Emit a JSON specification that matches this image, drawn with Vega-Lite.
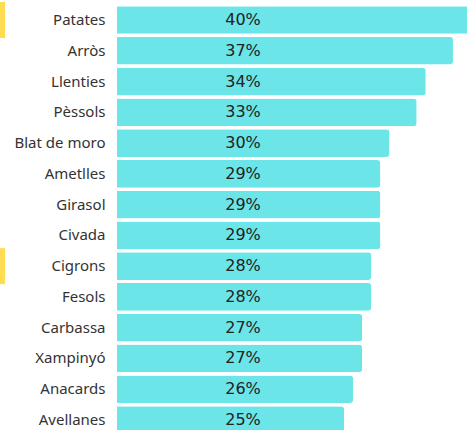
{
  "$schema": "https://vega.github.io/schema/vega-lite/v6.json",
  "width": 400,
  "height": 440,
  "autosize": {"type": "none"},
  "padding": {"left": 117, "top": 0, "right": 0, "bottom": 0},
  "background": "white",
  "config": {"view": {"stroke": null}},
  "data": {
    "values": [
      {"aliment": "Patates", "pct": 0.40, "destacat": true},
      {"aliment": "Arròs", "pct": 0.37, "destacat": false},
      {"aliment": "Llenties", "pct": 0.34, "destacat": false},
      {"aliment": "Pèssols", "pct": 0.33, "destacat": false},
      {"aliment": "Blat de moro", "pct": 0.30, "destacat": false},
      {"aliment": "Ametlles", "pct": 0.29, "destacat": false},
      {"aliment": "Girasol", "pct": 0.29, "destacat": false},
      {"aliment": "Civada", "pct": 0.29, "destacat": false},
      {"aliment": "Cigrons", "pct": 0.28, "destacat": true},
      {"aliment": "Fesols", "pct": 0.28, "destacat": false},
      {"aliment": "Carbassa", "pct": 0.27, "destacat": false},
      {"aliment": "Xampinyó", "pct": 0.27, "destacat": false},
      {"aliment": "Anacards", "pct": 0.26, "destacat": false},
      {"aliment": "Avellanes", "pct": 0.25, "destacat": false}
    ]
  },
  "encoding": {
    "y": {
      "field": "aliment",
      "type": "nominal",
      "sort": null,
      "scale": {"paddingInner": 0.1, "paddingOuter": 0.2},
      "axis": {
        "title": null,
        "domain": false,
        "ticks": false,
        "labelPadding": 12,
        "labelFont": "Noto Sans",
        "labelFontSize": 15,
        "labelColor": "#333333"
      }
    }
  },
  "layer": [
    {
      "mark": {"type": "bar", "color": "#6BE5E8", "cornerRadiusEnd": 3},
      "encoding": {
        "x": {
          "field": "pct",
          "type": "quantitative",
          "scale": {"domain": [0, 0.4405], "nice": false},
          "axis": null
        }
      }
    },
    {
      "mark": {
        "type": "text",
        "font": "DejaVu Sans",
        "fontSize": 16,
        "color": "#222222",
        "align": "center",
        "baseline": "middle",
        "x": 126
      },
      "encoding": {"text": {"field": "pct", "format": ".0%"}}
    },
    {
      "transform": [{"filter": "datum.destacat"}],
      "mark": {
        "type": "tick",
        "orient": "vertical",
        "color": "#FFDC50",
        "opacity": 1,
        "size": 36,
        "thickness": 5,
        "x": -114.5
      },
      "encoding": {}
    }
  ]
}
